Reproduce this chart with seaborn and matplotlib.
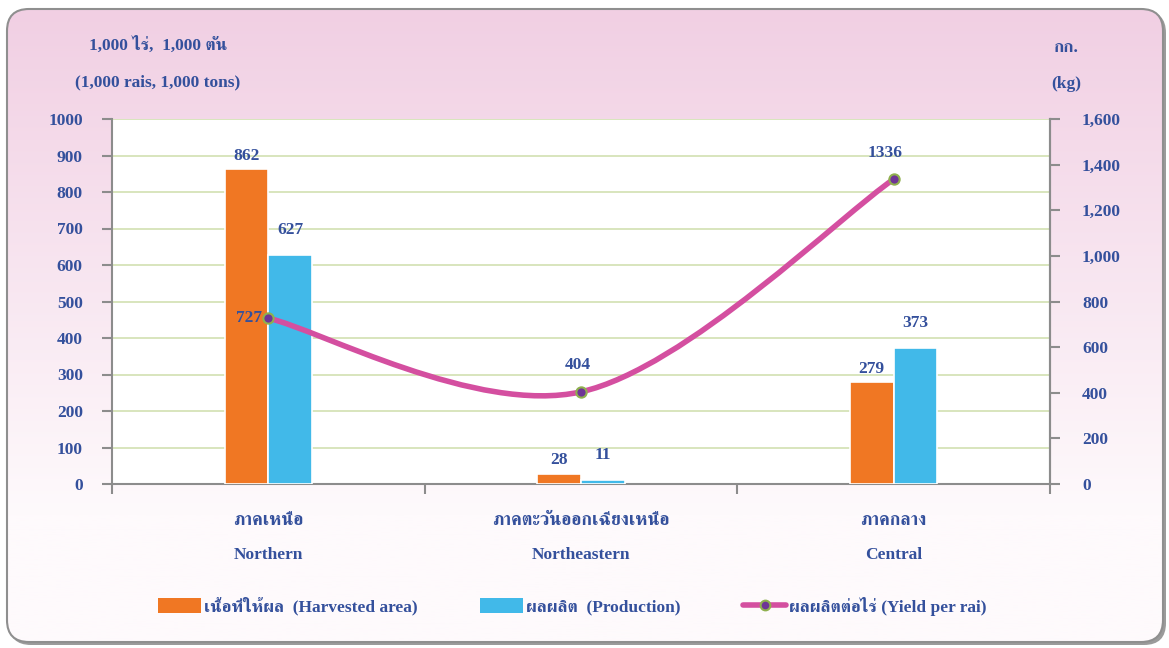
import numpy as np
import pandas as pd
import matplotlib
matplotlib.use("Agg")
import matplotlib.pyplot as plt
import matplotlib.ticker as mticker
import seaborn as sns
from matplotlib import font_manager
from matplotlib.ft2font import FT2Font
from matplotlib.path import Path
from matplotlib.patches import PathPatch, FancyBboxPatch, Patch
from matplotlib.lines import Line2D

# Data
regions_th = ["ภาคเหนือ", "ภาคตะวันออกเฉียงเหนือ", "ภาคกลาง"]
regions_en = ["Northern", "Northeastern", "Central"]
harvested_area = [862, 28, 279]
production = [627, 11, 373]
yield_per_rai = [727, 404, 1336]
series_names = ["เนื้อที่ให้ผล  (Harvested area)", "ผลผลิต  (Production)",
                "ผลผลิตต่อไร่ (Yield per rai)"]

TEXT = "#34509C"
ORANGE = "#F07723"
BLUE = "#41B9E9"
MAGENTA = "#D44FA0"
FS = 12.5


def find_thai_font():
    found = []
    for f in font_manager.fontManager.ttflist:
        try:
            if 0x0E01 in FT2Font(f.fname).get_charmap():
                found.append(f.name)
        except Exception:
            pass
    if not found:
        return None
    serif = [n for n in found if "Serif" in n]
    return (serif or found)[0]


def smooth_path(xs, ys):
    # Excel style smoothed line (Catmull-Rom as bezier)
    pts = np.column_stack([xs, ys]).astype(float)
    n = len(pts)
    verts = [pts[0]]
    codes = [Path.MOVETO]
    for i in range(n - 1):
        p0 = pts[max(i - 1, 0)]
        p1, p2 = pts[i], pts[i + 1]
        p3 = pts[min(i + 2, n - 1)]
        verts += [p1 + (p2 - p0) / 6, p2 - (p3 - p1) / 6, p2]
        codes += [Path.CURVE4] * 3
    return Path(verts, codes)


sns.set_style("white")
thai = find_thai_font()
families = ["Liberation Serif"] + ([thai] if thai else []) + ["DejaVu Sans"]
plt.rcParams["font.family"] = families
plt.rcParams["font.weight"] = "bold"
plt.rcParams["text.color"] = TEXT

W, H = 1169, 648
fig = plt.figure(figsize=(W / 100, H / 100), dpi=100)
fig.patch.set_facecolor("white")

# Background frame with pink gradient
bg = fig.add_axes([0, 0, 1, 1], zorder=-10)
bg.set_xlim(0, W)
bg.set_ylim(H, 0)
bg.axis("off")
shadow = FancyBboxPatch((9, 11), 1157, 634, boxstyle="round,pad=0,rounding_size=22",
                        facecolor="#7a7a7a", edgecolor="none", alpha=0.75)
bg.add_patch(shadow)
frame = FancyBboxPatch((7, 9), 1156, 633, boxstyle="round,pad=0,rounding_size=22",
                       facecolor="none", edgecolor="#8f8f8f", linewidth=1.5, zorder=3)
bg.add_patch(frame)
top_c = np.array([241, 207, 227]) / 255
bot_c = np.array([254, 250, 252]) / 255
t = np.clip(np.linspace(0, 1, 256) * 1.25, 0, 1)[:, None]
grad = (top_c * (1 - t) + bot_c * t)[:, None, :]
im = bg.imshow(grad, extent=(7, 1163, 642, 9), aspect="auto", zorder=2)
clip = FancyBboxPatch((7, 9), 1156, 633, boxstyle="round,pad=0,rounding_size=22",
                      transform=bg.transData)
im.set_clip_path(clip)

# Main axes
ax = fig.add_axes([112 / W, 1 - 484 / H, 938 / W, 365 / H])
ax.set_facecolor("white")

df = pd.DataFrame({
    "region": regions_en * 2,
    "value": harvested_area + production,
    "series": [series_names[0]] * 3 + [series_names[1]] * 3,
})
sns.barplot(data=df, x="region", y="value", hue="series", order=regions_en,
            hue_order=series_names[:2], palette=[ORANGE, BLUE], saturation=1,
            width=0.28, gap=0, edgecolor="white", linewidth=1.2, legend=False,
            ax=ax, zorder=3)

ax.set_xlim(-0.5, 2.5)
ax.set_ylim(0, 1000)
ax.yaxis.set_major_locator(mticker.MultipleLocator(100))
ax.grid(axis="y", color="#D5E3B8", linewidth=1.3, zorder=0)
ax.set_axisbelow(True)
ax.set_xlabel("")
ax.set_ylabel("")
for s in ["left", "bottom", "right"]:
    ax.spines[s].set_color("#8c8c8c")
    ax.spines[s].set_linewidth(1.5)
ax.spines["top"].set_visible(False)
ax.tick_params(axis="y", direction="out", length=7, width=1.5, color="#8c8c8c",
               pad=14, labelsize=FS, labelcolor=TEXT, left=True)
ax.set_xticks([0, 1, 2])
ax.set_xticklabels([])
ax.tick_params(axis="x", which="major", length=0)
ax.set_xticks([-0.5, 0.5, 1.5, 2.5], minor=True)
ax.tick_params(axis="x", which="minor", direction="out", length=7, width=1.5,
               color="#8c8c8c", bottom=True)
for lab in ax.get_yticklabels():
    lab.set_fontweight("bold")

# Bar value labels
ax.bar_label(ax.containers[0], padding=4, fontsize=FS, fontweight="bold", color=TEXT)
ax.bar_label(ax.containers[1], padding=12, fontsize=FS, fontweight="bold", color=TEXT)

# Category labels
for i in range(3):
    ax.text(i, -0.099, regions_th[i], transform=ax.get_xaxis_transform(),
            ha="center", va="center", fontsize=13, fontweight="bold", color=TEXT)
    ax.text(i, -0.195, regions_en[i], transform=ax.get_xaxis_transform(),
            ha="center", va="center", fontsize=FS, fontweight="bold", color=TEXT)

# Secondary axis: yield per rai
ax2 = ax.twinx()
ax2.set_ylim(0, 1600)
ax2.yaxis.set_major_locator(mticker.MultipleLocator(200))
ax2.yaxis.set_major_formatter(mticker.StrMethodFormatter("{x:,.0f}"))
ax2.tick_params(axis="y", direction="out", length=7, width=1.5, color="#8c8c8c",
                pad=16, labelsize=FS, labelcolor=TEXT, right=True)
for s in ax2.spines.values():
    s.set_visible(False)
ax2.spines["right"].set_visible(True)
ax2.spines["right"].set_color("#8c8c8c")
ax2.spines["right"].set_linewidth(1.5)
ax2.grid(False)

xs = np.arange(len(yield_per_rai))
ax2.add_patch(PathPatch(smooth_path(xs, yield_per_rai), facecolor="none",
                        edgecolor=MAGENTA, linewidth=4, capstyle="round", zorder=4))
sns.scatterplot(x=xs, y=yield_per_rai, ax=ax2, color="#6E3596", edgecolor="#8FB04E",
                linewidth=1.5, s=55, zorder=5, legend=False)
offsets = [(-14, 0), (-2, 19), (-6, 19)]
for x, y, off in zip(xs, yield_per_rai, offsets):
    ax2.annotate(str(y), (x, y), xytext=off, textcoords="offset points",
                 ha="center", va="center", fontsize=FS, fontweight="bold", color=TEXT)

# Axis unit titles
fig.text(158 / W, 1 - 45 / H, "1,000 ไร่,  1,000 ตัน", ha="center", va="center",
         fontsize=FS, fontweight="bold", color=TEXT)
fig.text(158 / W, 1 - 82 / H, "(1,000 rais, 1,000 tons)", ha="center", va="center",
         fontsize=FS, fontweight="bold", color=TEXT)
fig.text(1066 / W, 1 - 48 / H, "กก.", ha="center", va="center",
         fontsize=FS, fontweight="bold", color=TEXT)
fig.text(1066 / W, 1 - 84 / H, "(kg)", ha="center", va="center",
         fontsize=FS, fontweight="bold", color=TEXT)

# Legend
handles = [
    Patch(facecolor=ORANGE, edgecolor="none"),
    Patch(facecolor=BLUE, edgecolor="none"),
    Line2D([0], [0], color=MAGENTA, linewidth=4, marker="o", markersize=7,
           markerfacecolor="#6E3596", markeredgecolor="#8FB04E", markeredgewidth=1.5),
]
leg = fig.legend(handles, series_names, loc="center", bbox_to_anchor=(572 / W, 1 - 606 / H),
                 ncol=3, frameon=False, fontsize=FS, handlelength=2.5, handleheight=0.9,
                 handletextpad=0.15, columnspacing=3.6, labelcolor=TEXT)

fig.savefig("out.png", dpi=100)
